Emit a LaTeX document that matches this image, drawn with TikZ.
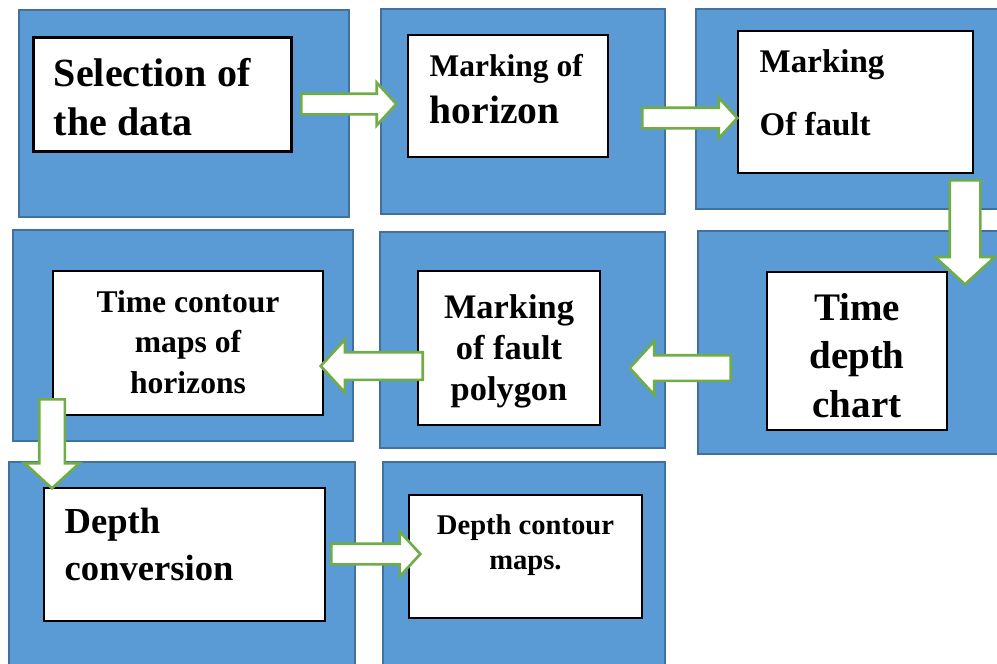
\documentclass[tikz,border=0pt]{standalone}
\usepackage{fontspec}
\setmainfont{Liberation Serif}
\usepackage{xcolor}
\definecolor{panelBlue}{HTML}{5B9BD5}
\definecolor{panelEdge}{HTML}{41719C}
\definecolor{arrowGreen}{HTML}{70AD47}
\usepackage{tikz}
\usetikzlibrary{shapes.arrows, positioning}

\begin{document}
\begin{tikzpicture}[
        x=0.5pt, y=-0.5pt,
        panel/.style={
            draw=panelEdge,
            fill=panelBlue,
            line width=1pt
        },
        stepBox/.style={
            draw=black,
            fill=white,
            line width=0.7pt,
            inner sep=0pt
        },
        stepText/.style={
            inner sep=0pt,
            text=black
        },
        flowArrow/.style={
            single arrow,
            draw=arrowGreen,
            fill=white,
            line width=1.3pt,
            inner sep=0pt,
            single arrow tip angle=95,
            anchor=tail
        }
    ]
    \useasboundingbox (0,0) rectangle (997,664);
    \clip (0,0) rectangle (997,664);

    % blue panels, row by row
    \draw[panel] (19,10) rectangle (349,217);
    \draw[panel] (381,9) rectangle (665,214);
    \draw[panel] (696,9) rectangle (1005,209);
    \draw[panel] (13,230) rectangle (353,441);
    \draw[panel] (380,232) rectangle (665,448);
    \draw[panel] (698,231) rectangle (1005,454);
    \draw[panel] (9,462) rectangle (355,672);
    \draw[panel] (383,462) rectangle (665,672);

    % white step boxes
    \node[stepBox, line width=1.5pt, minimum width=129pt, minimum height=57pt] (selection) at (162,94) {};
    \node[stepBox, minimum width=100pt, minimum height=61pt] (horizon) at (508,96) {};
    \node[stepBox, minimum width=117.5pt, minimum height=71pt] (fault) at (855.5,102) {};
    \node[stepBox, minimum width=135pt, minimum height=72pt] (contour) at (188,343) {};
    \node[stepBox, minimum width=91pt, minimum height=77pt] (polygon) at (509,348) {};
    \node[stepBox, minimum width=90pt, minimum height=79pt] (chart) at (857,351) {};
    \node[stepBox, minimum width=140.5pt, minimum height=66.5pt] (conversion) at (184.5,554.5) {};
    \node[stepBox, minimum width=116.5pt, minimum height=61.5pt] (depthMaps) at (525.5,556.5) {};

    % texts of the steps
    \node[stepText, align=left, font=\fontsize{20pt}{24.5pt}\selectfont\bfseries,
        below right=11pt and 11pt of selection.north west] (selectionText) {Selection of\\the data};
    \node[stepText, align=left, font=\fontsize{15.75pt}{23.5pt}\selectfont\bfseries,
        below right=9.8pt and 11pt of horizon.north west] (horizonText) {Marking of\\{\fontsize{19.8pt}{23.5pt}\selectfont horizon}};
    \node[stepText, align=left, font=\fontsize{16.5pt}{31.5pt}\selectfont\bfseries,
        below right=9.3pt and 11pt of fault.north west] (faultText) {Marking\\Of fault};
    \node[stepText, align=center, font=\fontsize{15.8pt}{20.25pt}\selectfont\bfseries,
        below=9.8pt of contour.north] (contourText) {Time contour\\maps of\\horizons};
    \node[stepText, align=center, font=\fontsize{17.2pt}{20.5pt}\selectfont\bfseries,
        below=11.8pt of polygon.north] (polygonText) {Marking\\of fault\\polygon};
    \node[stepText, align=center, font=\fontsize{19.5pt}{24.25pt}\selectfont\bfseries,
        below=10.75pt of chart.north] (chartText) {Time\\depth\\chart};
    \node[stepText, align=left, font=\fontsize{18.3pt}{23.5pt}\selectfont\bfseries,
        below right=10pt and 10.5pt of conversion.north west] (conversionText) {Depth\\conversion};
    \node[stepText, align=center, font=\fontsize{14.3pt}{17.5pt}\selectfont\bfseries,
        below=9.75pt of depthMaps.north] (depthMapsText) {Depth contour\\maps.};

    % block arrows between the steps
    \node[flowArrow, minimum height=47.5pt, inner ysep=4.5pt, single arrow head extend=5.5pt] (arrowOne) at (300,104) {};
    \node[flowArrow, minimum height=47.5pt, inner ysep=4.5pt, single arrow head extend=5pt] (arrowTwo) at (641,118) {};
    \node[flowArrow, rotate=-90, minimum height=52pt, inner ysep=7pt, single arrow head extend=7.25pt] (arrowThree) at (965,179) {};
    \node[flowArrow, rotate=180, minimum height=50.5pt, inner ysep=5.75pt, single arrow head extend=7pt] (arrowFour) at (732,368) {};
    \node[flowArrow, rotate=180, minimum height=51pt, inner ysep=6.25pt, single arrow head extend=6.25pt] (arrowFive) at (424,366) {};
    \node[flowArrow, rotate=-90, minimum height=44.5pt, inner ysep=5.75pt, single arrow head extend=7.25pt] (arrowSix) at (52,398) {};
    \node[flowArrow, minimum height=44.5pt, inner ysep=4.5pt, single arrow head extend=6pt] (arrowSeven) at (330,554) {};

\end{tikzpicture}
\end{document}
